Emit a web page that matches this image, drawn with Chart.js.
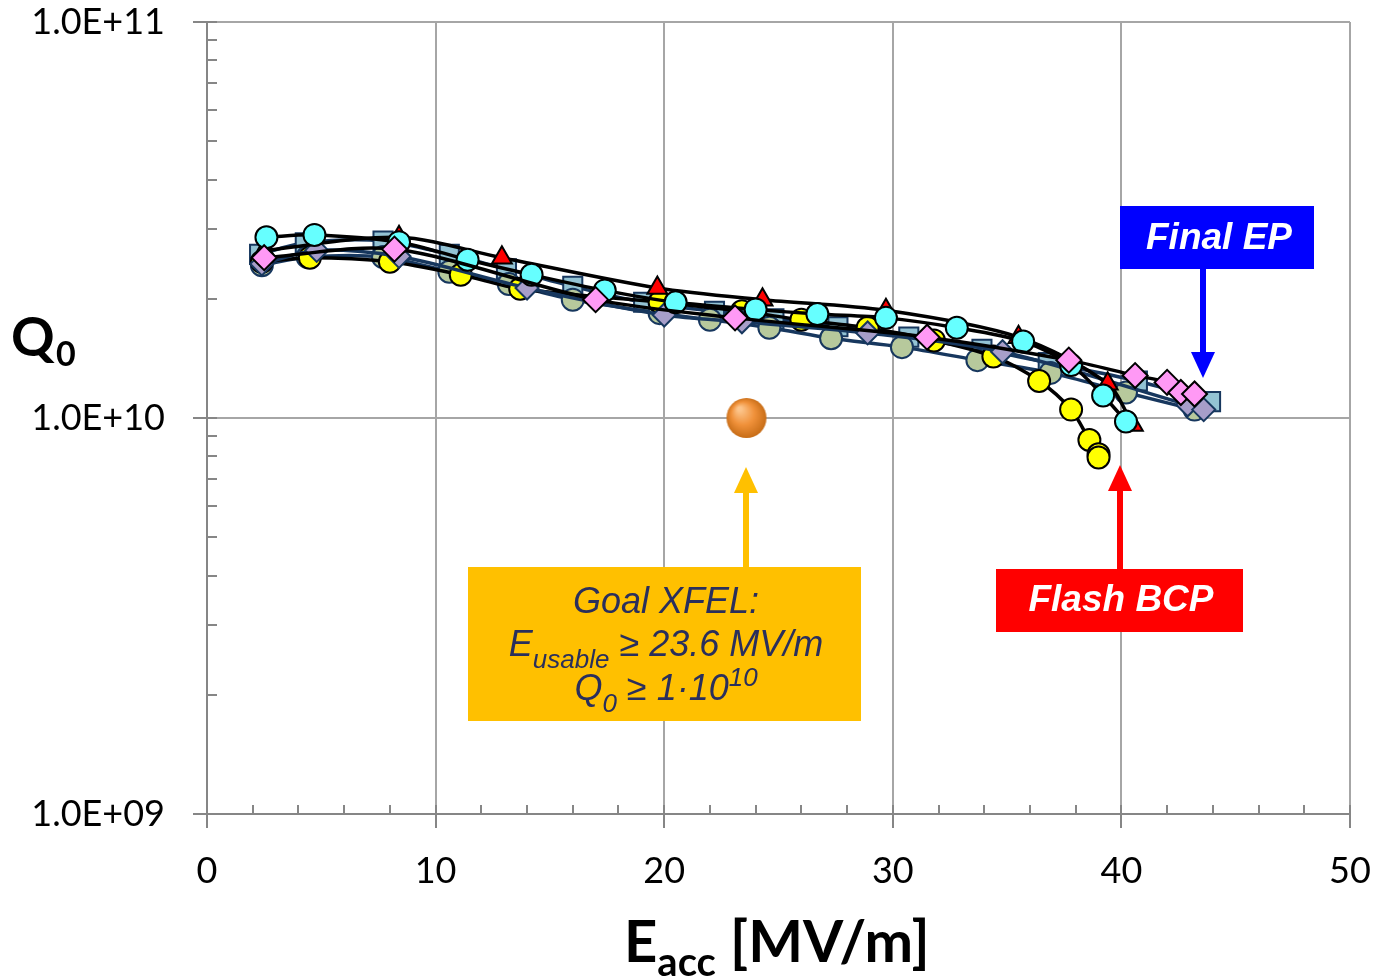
<!DOCTYPE html>
<html lang="en">
<head>
    <meta charset="UTF-8">
    <title>Q0 vs Eacc</title>
    <script src="https://cdn.jsdelivr.net/npm/chart.js"></script>
    <style>
        body {
            margin: 0;
            background: #ffffff;
        }
        canvas {
            display: block;
        }
    </style>
</head>
<body>
    <canvas id="q0Chart" width="1382" height="978"></canvas>
    <script>
        // values (Eacc in MV/m, Q0)
        const xTicks = [0, 10, 20, 30, 40, 50];
        const yTicks = [1e9, 1e10, 1e11];

        const eRed = [2.5, 8.4, 12.9, 19.7, 24.3, 29.7, 35.5, 39.4, 40.5];
        const qRed = [2.65e10, 2.86e10, 2.54e10, 2.13e10, 1.99e10, 1.87e10, 1.60e10, 1.22e10, 9.6e9];

        const eCyan = [2.6, 4.7, 8.4, 11.4, 14.2, 17.4, 20.5, 24.0, 26.7, 29.7, 32.8, 35.7, 37.8, 39.2, 40.2];
        const qCyan = [2.86e10, 2.90e10, 2.78e10, 2.51e10, 2.30e10, 2.10e10, 1.96e10, 1.88e10, 1.83e10, 1.79e10, 1.69e10, 1.56e10, 1.36e10, 1.14e10, 9.8e9];

        const eYellow = [2.4, 4.5, 8.0, 11.1, 13.7, 19.8, 23.4, 26.0, 28.9, 31.8, 34.4, 36.4, 37.8, 38.6, 39.0, 39.0];
        const qYellow = [2.48e10, 2.54e10, 2.48e10, 2.30e10, 2.12e10, 1.96e10, 1.86e10, 1.77e10, 1.69e10, 1.57e10, 1.43e10, 1.24e10, 1.05e10, 8.8e9, 8.1e9, 7.95e9];

        const eSage = [2.4, 4.4, 7.7, 10.6, 13.2, 16.0, 19.8, 22.0, 24.6, 27.3, 30.4, 33.7, 36.9, 40.2, 43.2];
        const qSage = [2.43e10, 2.55e10, 2.55e10, 2.34e10, 2.18e10, 1.99e10, 1.84e10, 1.77e10, 1.69e10, 1.59e10, 1.51e10, 1.40e10, 1.30e10, 1.16e10, 1.05e10];

        const eSquare = [2.3, 4.3, 7.7, 10.6, 13.1, 16.0, 19.1, 22.2, 24.8, 27.6, 30.7, 33.9, 36.8, 40.7, 43.9];
        const qSquare = [2.59e10, 2.77e10, 2.80e10, 2.59e10, 2.38e10, 2.15e10, 1.96e10, 1.86e10, 1.78e10, 1.70e10, 1.60e10, 1.49e10, 1.38e10, 1.24e10, 1.10e10];

        const ePink = [2.5, 8.2, 17.0, 23.1, 31.5, 37.7, 40.6, 42.0, 42.6, 43.2];
        const qPink = [2.54e10, 2.67e10, 1.99e10, 1.79e10, 1.60e10, 1.40e10, 1.28e10, 1.23e10, 1.16e10, 1.15e10];

        const ePurple = [2.4, 4.8, 8.4, 14.0, 20.0, 23.4, 28.9, 34.8, 42.9, 43.6];
        const qPurple = [2.45e10, 2.65e10, 2.56e10, 2.13e10, 1.82e10, 1.75e10, 1.64e10, 1.47e10, 1.08e10, 1.05e10];

        const eGoal = [23.6];
        const qGoal = [1e10];

        const pairs = (xs, ys) => xs.map((x, i) => ({ x: x, y: ys[i] }));
        const NAVY = '#17375e';

        // shaded orange ball for the goal point
        const ball = document.createElement('canvas');
        ball.width = 44;
        ball.height = 44;
        const bctx = ball.getContext('2d');
        const grad = bctx.createRadialGradient(15, 13, 2, 22, 22, 21);
        grad.addColorStop(0, '#fcc48a');
        grad.addColorStop(0.5, '#f0913a');
        grad.addColorStop(1, '#c46a14');
        bctx.fillStyle = grad;
        bctx.beginPath();
        bctx.arc(22, 22, 20, 0, Math.PI * 2);
        bctx.fill();

        function series(xs, ys, style, fill, line, radius, order) {
            return {
                data: pairs(xs, ys),
                showLine: true,
                tension: 0.3,
                borderColor: line,
                borderWidth: 3.5,
                pointStyle: style,
                pointRadius: radius,
                pointBackgroundColor: fill,
                pointBorderColor: line,
                pointBorderWidth: 2,
                order: order
            };
        }

        const isPow10 = v => Math.abs(Math.log10(v) - Math.round(Math.log10(v))) < 1e-6;

        // minor/major tick marks like the original axes
        const tickMarks = {
            id: 'tickMarks',
            afterDraw(chart) {
                const { ctx, chartArea, scales } = chart;
                ctx.save();
                ctx.strokeStyle = '#868686';
                ctx.lineWidth = 2;
                ctx.beginPath();
                for (let v = 0; v <= 50; v += 2) {
                    const px = Math.round(scales.x.getPixelForValue(v));
                    const major = v % 10 === 0;
                    ctx.moveTo(px, chartArea.bottom - 9);
                    ctx.lineTo(px, chartArea.bottom + (major ? 14 : 0));
                }
                for (let d = 9; d <= 11; d++) {
                    for (let k = 1; k <= 9; k++) {
                        const v = k * Math.pow(10, d);
                        if (v > 1e11) break;
                        const py = Math.round(scales.y.getPixelForValue(v));
                        ctx.moveTo(chartArea.left - (k === 1 ? 14 : 0), py);
                        ctx.lineTo(chartArea.left + 10, py);
                    }
                }
                ctx.stroke();
                ctx.restore();
            }
        };

        // axis titles and the three labelled arrows
        const notes = {
            id: 'notes',
            afterDraw(chart) {
                const ctx = chart.ctx;
                ctx.save();
                ctx.fillStyle = '#000000';
                ctx.textBaseline = 'alphabetic';
                ctx.textAlign = 'left';
                ctx.font = 'bold 54px Lato';
                ctx.fillText('Q', 11, 356);
                ctx.font = 'bold 34px Lato';
                ctx.fillText('0', 56, 366);

                ctx.font = 'bold 58px Lato';
                let x = 624;
                ctx.fillText('E', x, 962);
                x += ctx.measureText('E').width;
                ctx.font = 'bold 40px Lato';
                ctx.fillText('acc', x, 976);
                x += ctx.measureText('acc').width;
                ctx.font = 'bold 58px Lato';
                ctx.fillText(' [MV/m]', x, 962);

                function arrow(cx, y0, y1, color, head) {
                    const dir = y1 > y0 ? 1 : -1;
                    ctx.fillStyle = color;
                    ctx.fillRect(cx - 3, Math.min(y0, y1 - dir * head), 6, Math.abs(y1 - dir * head - y0));
                    ctx.beginPath();
                    ctx.moveTo(cx, y1);
                    ctx.lineTo(cx - 12, y1 - dir * head);
                    ctx.lineTo(cx + 12, y1 - dir * head);
                    ctx.closePath();
                    ctx.fill();
                }

                // Final EP
                ctx.fillStyle = '#0000ff';
                ctx.fillRect(1120, 206, 194, 63);
                arrow(1203, 269, 378, '#0000ff', 26);
                ctx.fillStyle = '#ffffff';
                ctx.textAlign = 'center';
                ctx.textBaseline = 'middle';
                ctx.font = 'italic bold 37px "Liberation Sans"';
                ctx.fillText('Final EP', 1219, 239);

                // Flash BCP
                ctx.fillStyle = '#ff0000';
                ctx.fillRect(996, 569, 247, 63);
                arrow(1120, 569, 465, '#ff0000', 26);
                ctx.fillStyle = '#ffffff';
                ctx.fillText('Flash BCP', 1121, 601);

                // Goal XFEL
                ctx.fillStyle = '#ffc000';
                ctx.fillRect(468, 567, 393, 154);
                arrow(746, 567, 467, '#ffc000', 26);
                ctx.fillStyle = '#2a2f5c';
                ctx.textBaseline = 'alphabetic';
                ctx.font = 'italic 36px "Liberation Sans"';
                ctx.fillText('Goal XFEL:', 666, 613);

                const big = 'italic 36px "Liberation Sans"';
                const small = 'italic 26px "Liberation Sans"';
                function rich(parts, cx, base) {
                    let w = 0;
                    parts.forEach(p => { ctx.font = p[1] ? small : big; w += ctx.measureText(p[0]).width; });
                    let px = cx - w / 2;
                    ctx.textAlign = 'left';
                    parts.forEach(p => {
                        ctx.font = p[1] ? small : big;
                        ctx.fillText(p[0], px, base + p[1]);
                        px += ctx.measureText(p[0]).width;
                    });
                    ctx.textAlign = 'center';
                }
                rich([['E', 0], ['usable', 12], [' \u2265 23.6 MV/m', 0]], 666, 656);
                rich([['Q', 0], ['0', 12], [' \u2265 1\u00b710', 0], ['10', -14]], 666, 700);
                ctx.restore();
            }
        };

        const ctx = document.getElementById('q0Chart').getContext('2d');
        new Chart(ctx, {
            type: 'scatter',
            data: {
                datasets: [
                    series(eSquare, qSquare, 'rect', '#93c3d4', NAVY, 13.5, 7),
                    series(eSage, qSage, 'circle', '#b7c99c', NAVY, 11, 6),
                    series(eYellow, qYellow, 'circle', '#ffff00', '#000000', 11, 5),
                    series(ePurple, qPurple, 'rectRot', '#a79ec9', NAVY, 11.5, 4),
                    series(eRed, qRed, 'triangle', '#ff0000', '#000000', 11.5, 3),
                    series(eCyan, qCyan, 'circle', '#66ffff', '#000000', 11, 2),
                    series(ePink, qPink, 'rectRot', '#ff99f5', '#000000', 12.5, 1),
                    {
                        data: pairs(eGoal, qGoal),
                        showLine: false,
                        pointStyle: ball,
                        pointRadius: 20,
                        order: 0
                    }
                ]
            },
            options: {
                responsive: false,
                animation: false,
                devicePixelRatio: 1,
                layout: {
                    padding: { top: 22, right: 32, left: 0, bottom: 0 }
                },
                plugins: {
                    legend: { display: false },
                    tooltip: { enabled: false }
                },
                scales: {
                    x: {
                        type: 'linear',
                        min: 0,
                        max: 50,
                        afterFit: s => {
                            s.height = 164;
                            s.paddingLeft = 0;
                            s.paddingRight = 0;
                        },
                        afterBuildTicks: s => { s.ticks = xTicks.map(v => ({ value: v })); },
                        border: { color: '#868686', width: 2 },
                        grid: { color: '#a6a6a6', lineWidth: 2, drawTicks: false },
                        ticks: {
                            padding: 36,
                            color: '#000000',
                            font: { family: 'Lato', size: 36 }
                        }
                    },
                    y: {
                        type: 'logarithmic',
                        min: 1e9,
                        max: 1e11,
                        afterFit: s => {
                            s.width = 207;
                            s.paddingTop = 0;
                            s.paddingBottom = 0;
                        },
                        afterBuildTicks: s => { s.ticks = yTicks.map(v => ({ value: v })); },
                        border: { color: '#868686', width: 2 },
                        grid: { color: '#a6a6a6', lineWidth: 2, drawTicks: false },
                        ticks: {
                            padding: 42,
                            color: '#000000',
                            autoSkip: false,
                            font: { family: 'Lato', size: 36 },
                            callback: v => isPow10(v) ? Number(v).toExponential(1).toUpperCase().replace(/E\+(\d)$/, 'E+0$1') : ''
                        }
                    }
                }
            },
            plugins: [tickMarks, notes]
        });
    </script>
</body>
</html>
